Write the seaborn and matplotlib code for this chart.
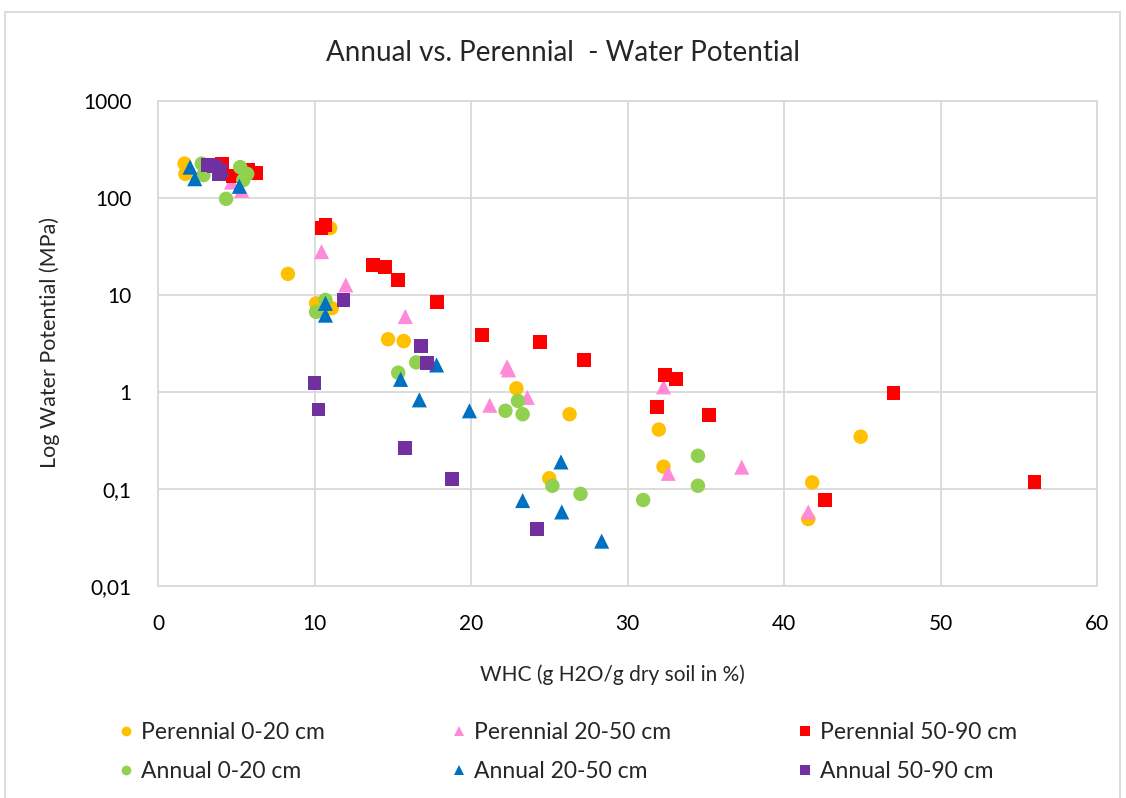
import matplotlib
matplotlib.use("Agg")
import matplotlib.pyplot as plt
import seaborn as sns
import pandas as pd
from matplotlib.lines import Line2D
from matplotlib.patches import Rectangle
from matplotlib.ticker import NullLocator

# --- data: WHC (%) vs. water potential (MPa) ---
per_0_20_x = [1.7, 1.75, 8.3, 10.1, 11.1, 11.0, 14.7, 15.7, 22.9, 26.3, 25.0, 32.0, 32.3, 44.9, 41.8, 41.55]
per_0_20_y = [226, 177, 16.5, 8.2, 7.3, 49, 3.5, 3.35, 1.09, 0.59, 0.129, 0.41, 0.17, 0.346, 0.117, 0.049]

per_20_50_x = [4.7, 5.35, 10.45, 12.0, 15.8, 22.3, 22.4, 21.2, 23.6, 32.3, 32.6, 37.3, 41.55]
per_20_50_y = [146, 120, 28, 12.7, 6.0, 1.82, 1.69, 0.73, 0.88, 1.13, 0.145, 0.168, 0.058]

per_50_90_x = [4.1, 4.8, 5.75, 6.3, 10.45, 10.7, 13.75, 14.5, 15.35, 17.85, 20.7, 24.4, 27.2,
               32.4, 33.1, 31.9, 35.2, 47.0, 42.6, 56.0]
per_50_90_y = [225, 170, 195, 182, 48.7, 52.5, 20.3, 19.5, 14.3, 8.5, 3.87, 3.25, 2.14,
               1.5, 1.36, 0.70, 0.58, 0.97, 0.077, 0.118]

ann_0_20_x = [2.8, 2.9, 4.35, 5.25, 5.7, 5.45, 10.7, 10.1, 15.35, 16.5, 23.0, 22.2, 23.3,
              25.2, 27.0, 31.0, 34.5, 34.5]
ann_0_20_y = [226, 172, 98, 208, 177, 153, 8.9, 6.7, 1.58, 2.02, 0.81, 0.64, 0.59,
              0.108, 0.089, 0.077, 0.22, 0.108]

ann_20_50_x = [2.05, 2.35, 4.05, 5.2, 10.7, 10.7, 15.5, 17.8, 16.7, 19.9, 25.75, 23.3, 25.8, 28.35]
ann_20_50_y = [208, 158, 200, 132, 8.2, 6.2, 1.35, 1.9, 0.83, 0.64, 0.19, 0.076, 0.058, 0.029]

ann_50_90_x = [3.2, 3.6, 3.9, 4.0, 11.85, 16.8, 17.2, 10.0, 10.25, 15.8, 18.8, 24.2]
ann_50_90_y = [218, 212, 175, 190, 8.9, 2.98, 2.0, 1.23, 0.66, 0.263, 0.127, 0.039]

x_ticks = [0, 10, 20, 30, 40, 50, 60]
y_ticks = [0.01, 0.1, 1, 10, 100, 1000]
y_tick_labels = ["0,01", "0,1", "1", "10", "100", "1000"]

# series: (label, x, y, color, marker)
series = [
    ("Perennial 0-20 cm", per_0_20_x, per_0_20_y, "#FFC000", "o"),
    ("Perennial 20-50 cm", per_20_50_x, per_20_50_y, "#FF8AD8", "^"),
    ("Perennial 50-90 cm", per_50_90_x, per_50_90_y, "#FF0000", "s"),
    ("Annual 0-20 cm", ann_0_20_x, ann_0_20_y, "#92D050", "o"),
    ("Annual 20-50 cm", ann_20_50_x, ann_20_50_y, "#0070C0", "^"),
    ("Annual 50-90 cm", ann_50_90_x, ann_50_90_y, "#7030A0", "s"),
]
draw_order = [0, 1, 2, 3, 5, 4]
marker_area = {"o": 108, "^": 118, "s": 98}

sns.set_style("white")
plt.rcParams["font.family"] = ["Lato", "DejaVu Sans"]

W, H = 1126, 798
fig = plt.figure(figsize=(W / 100, H / 100), dpi=100)
ax = fig.add_axes([158 / W, 1 - 586 / H, (1097 - 158) / W, (586 - 101) / H])

for i in draw_order:
    label, xs, ys, color, marker = series[i]
    df = pd.DataFrame({"WHC": xs, "WP": ys})
    sns.scatterplot(data=df, x="WHC", y="WP", ax=ax, color=color, marker=marker,
                    s=marker_area[marker], edgecolor="none", linewidth=0,
                    legend=False, zorder=3 + i)

ax.set_yscale("log")
ax.set_xlim(0, 60)
ax.set_ylim(0.01, 1000)
ax.set_xticks(x_ticks)
ax.set_xticklabels([str(t) for t in x_ticks])
ax.set_yticks(y_ticks)
ax.set_yticklabels(y_tick_labels)
ax.yaxis.set_minor_locator(NullLocator())

ax.grid(True, color="#D9D9D9", linewidth=1.3)
ax.set_axisbelow(True)
for sp in ax.spines.values():
    sp.set_color("#D9D9D9")
    sp.set_linewidth(1.3)
ax.tick_params(axis="both", length=0, labelsize=15, colors="#000000")
ax.tick_params(axis="x", pad=20)
ax.tick_params(axis="y", pad=19)
ax.set_xlabel("")
ax.set_ylabel("")

# axis titles and chart title
fig.text(612 / W, 1 - 675 / H, "WHC (g H2O/g dry soil in %)", ha="center", va="center",
         fontsize=15)
fig.text(50 / W, 1 - 343 / H, "Log Water Potential (MPa)", ha="center", va="center",
         rotation=90, fontsize=15.5)
fig.text(0.5, 1 - 53 / H, "Annual vs. Perennial  - Water Potential",
         ha="center", va="center", fontsize=20)

# legend: three columns, filled row by row
row_order = [0, 3, 1, 4, 2, 5]
handles = [Line2D([0], [0], linestyle="none", marker=series[k][4], color=series[k][3],
                  markersize=7, markeredgewidth=0) for k in row_order]
labels = [series[k][0] for k in row_order]
fig.legend(handles, labels, ncol=3, loc="center", bbox_to_anchor=(0.505, 1 - 752 / H),
           frameon=False, fontsize=16.5, handlelength=0.5, handletextpad=0.4,
           columnspacing=5.6, labelspacing=0.75)

# chart-area border
fig.patches.append(Rectangle((5 / W, -0.01), 1115 / W, 1 - 12 / H + 0.01,
                             transform=fig.transFigure, fill=False,
                             edgecolor="#D9D9D9", linewidth=1.3))

fig.savefig("out.png", dpi=100)
